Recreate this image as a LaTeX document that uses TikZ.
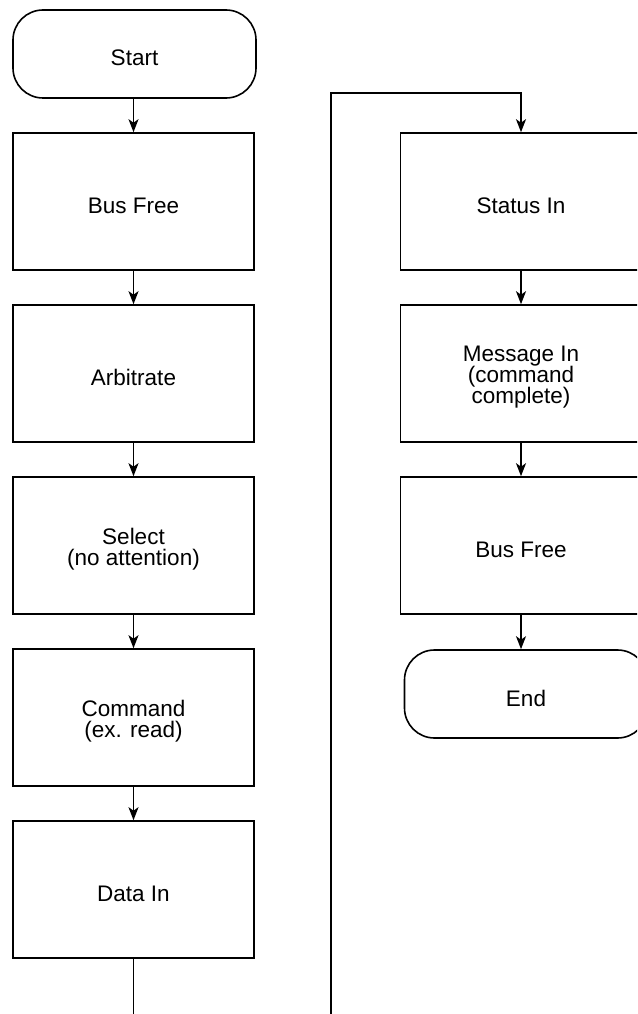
\documentclass[tikz,border=0pt]{standalone}
\usepackage{fontspec}
\setmainfont{Liberation Sans}
\usetikzlibrary{arrows.meta}
\begin{document}
\begin{tikzpicture}[x=1pt,y=-1pt,
  txt/.style={font=\fontsize{22.5}{21}\selectfont, align=center, inner sep=0pt},
  box/.style={draw, line width=1.6pt, minimum width=241pt, minimum height=137pt, inner sep=0pt,
    label={[txt, yshift=-4pt]center:#1}},
  term/.style={draw, line width=1.6pt, rounded corners=30pt, minimum width=243pt, minimum height=88pt, inner sep=0pt,
    label={[txt, yshift=-4pt]center:#1}},
  arr/.style={line width=1.6pt, -{Stealth[length=13pt,width=10pt,inset=3.5pt]}}]
\useasboundingbox (0,0) rectangle (637,1014);
\clip (0,0) rectangle (637,1014);
\node[term={Start}] (start) at (134.5,54) {};
\node[box={Bus Free}] (bf1) at (133.5,201.5) {};
\node[box={Arbitrate}] (arb) at (133.5,373.5) {};
\node[box={Select\\(no attention)}] (sel) at (133.5,545.5) {};
\node[box={Command\\(ex. read)}] (cmd) at (133.5,717.5) {};
\node[box={Data In}] (data) at (133.5,889.5) {};
\node[box={Status In}] (stat) at (521,201.5) {};
\node[box={Message In\\(command\\complete)}] (msg) at (521,373.5) {};
\node[box={Bus Free}] (bf2) at (521,545.5) {};
\node[term={End}] (end) at (526,694) {};
\coordinate (lb) at (331,1060);
\coordinate (lt) at (331,93);
\draw[arr] (start.south -| bf1.north) -- (bf1.north);
\draw[arr] (bf1) -- (arb);
\draw[arr] (arb) -- (sel);
\draw[arr] (sel) -- (cmd);
\draw[arr] (cmd) -- (data);
\draw[arr] (data.south) |- (lb) -- (lt) -| (stat.north);
\draw[arr] (stat) -- (msg);
\draw[arr] (msg) -- (bf2);
\draw[arr] (bf2.south) -- (bf2.south |- end.north);
\end{tikzpicture}
\end{document}
